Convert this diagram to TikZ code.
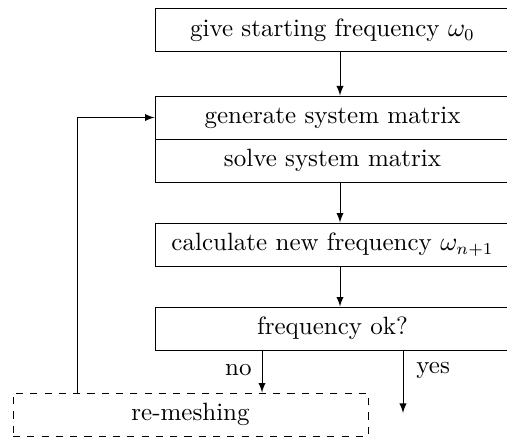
\documentclass[tikz,border=0pt]{standalone}
\usepackage{amsmath}
\usepackage{tikz}
\usetikzlibrary{arrows}

\tikzset{
  stepbox/.style={draw, minimum width=149.1pt, minimum height=18.06pt, inner sep=0pt},
  flow/.style={->, >=latex}
}

\begin{document}
\begin{tikzpicture}[x=0.42pt, y=-0.42pt, thin, font=\fontsize{10.5pt}{12pt}\selectfont]
\useasboundingbox (0,0) rectangle (507,438);
%%%%% Boxes %%%%%
\node[stepbox] (start) at (332.5,30) {give starting frequency $\omega_0$};
\node[stepbox] (gen) at (332.5,117.5) {generate system matrix};
\node[stepbox] (solve) at (332.5,160.5) {solve system matrix};
\node[stepbox] (calc) at (332.5,244.5) {calculate new frequency $\omega_{n+1}$};
\node[stepbox] (check) at (332.5,328.5) {frequency ok?};
\node[stepbox, dashed] (remesh) at (190.5,414.5) {re-meshing};
%%%%% Arrows %%%%%
\coordinate (mainx) at (340,0);
\coordinate (nox) at (262,0);
\coordinate (yesend) at (403,413);
\coordinate (backx) at (77,0);
\draw[flow] (start.south -| mainx) -- (gen.north -| mainx);
\draw[flow] (solve.south -| mainx) -- (calc.north -| mainx);
\draw[flow] (calc.south -| mainx) -- (check.north -| mainx);
\draw[flow] (check.south -| nox) -- (remesh.north -| nox);
\draw[flow] (check.south -| yesend) -- (yesend);
\draw[flow] (remesh.north -| backx) |- (gen.west);
\node[left] (nolbl) at (260,370) {no};
\node[right] (yeslbl) at (408,370) {yes};
\end{tikzpicture}
\end{document}
